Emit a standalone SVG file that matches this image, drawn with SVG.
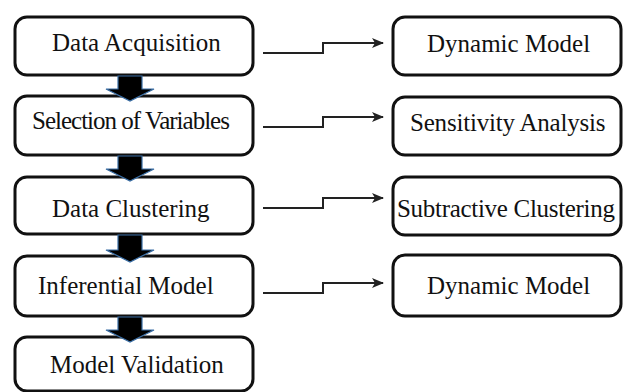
<svg xmlns="http://www.w3.org/2000/svg" width="623" height="392" viewBox="0 0 623 392">
<defs>
<style>
.box{fill:#fff;stroke:#111;stroke-width:3}
.conn{fill:none;stroke:#222;stroke-width:2}
.down{fill:#000;stroke:#3a6ea5;stroke-width:1.2}
</style>
<marker id="ah" markerWidth="12" markerHeight="10" refX="11" refY="5" orient="auto" markerUnits="userSpaceOnUse">
<path d="M0,0 L12,5 L0,10 L3,5 Z" fill="#222"/>
</marker>
</defs>
<rect width="623" height="392" fill="#fff"/>
<g id="n1"><rect class="box" x="15" y="17" width="238" height="58" rx="12"/><text font-family="Liberation Serif" font-size="25" fill="#111" x="52" y="51">Data Acquisition</text></g>
<g id="n2"><rect class="box" x="15" y="96" width="238" height="59" rx="12"/><text font-family="Liberation Serif" font-size="25" fill="#111" x="32" y="129" letter-spacing="-1">Selection of Variables</text></g>
<g id="n3"><rect class="box" x="15" y="177" width="238" height="57" rx="12"/><text font-family="Liberation Serif" font-size="25" fill="#111" x="52" y="217">Data Clustering</text></g>
<g id="n4"><rect class="box" x="15" y="256" width="238" height="60" rx="12"/><text font-family="Liberation Serif" font-size="25" fill="#111" x="38" y="294">Inferential Model</text></g>
<g id="n5"><rect class="box" x="15" y="337" width="238" height="54" rx="12"/><text font-family="Liberation Serif" font-size="25" fill="#111" x="50" y="373">Model Validation</text></g>
<g id="r1"><rect class="box" x="393" y="17" width="228" height="58" rx="12"/><text font-family="Liberation Serif" font-size="25" fill="#111" x="427" y="52">Dynamic Model</text></g>
<g id="r2"><rect class="box" x="393" y="97" width="228" height="58" rx="12"/><text font-family="Liberation Serif" font-size="25" fill="#111" x="410" y="131" letter-spacing="-0.2">Sensitivity Analysis</text></g>
<g id="r3"><rect class="box" x="393" y="177" width="228" height="58" rx="12"/><text font-family="Liberation Serif" font-size="25" fill="#111" x="397" y="217" letter-spacing="-0.3">Subtractive Clustering</text></g>
<g id="r4"><rect class="box" x="393" y="255" width="228" height="61" rx="12"/><text font-family="Liberation Serif" font-size="25" fill="#111" x="427" y="294">Dynamic Model</text></g>
<g id="connectors">
<path class="conn" marker-end="url(#ah)" d="M263,53 H323 V43 H383"/>
<path class="conn" marker-end="url(#ah)" d="M263,127 H323 V117 H383"/>
<path class="conn" marker-end="url(#ah)" d="M263,208 H323 V198 H383"/>
<path class="conn" marker-end="url(#ah)" d="M263,293 H323 V283 H383"/>
<path class="down" d="M118,76 H142 V89 H154 L130,101 L106,89 H118 Z"/>
<path class="down" d="M118,156 H142 V169 H154 L130,181 L106,169 H118 Z"/>
<path class="down" d="M118,235 H142 V250 H154 L130,262 L106,250 H118 Z"/>
<path class="down" d="M118,317 H142 V330 H154 L130,342 L106,330 H118 Z"/>
</g>
</svg>
